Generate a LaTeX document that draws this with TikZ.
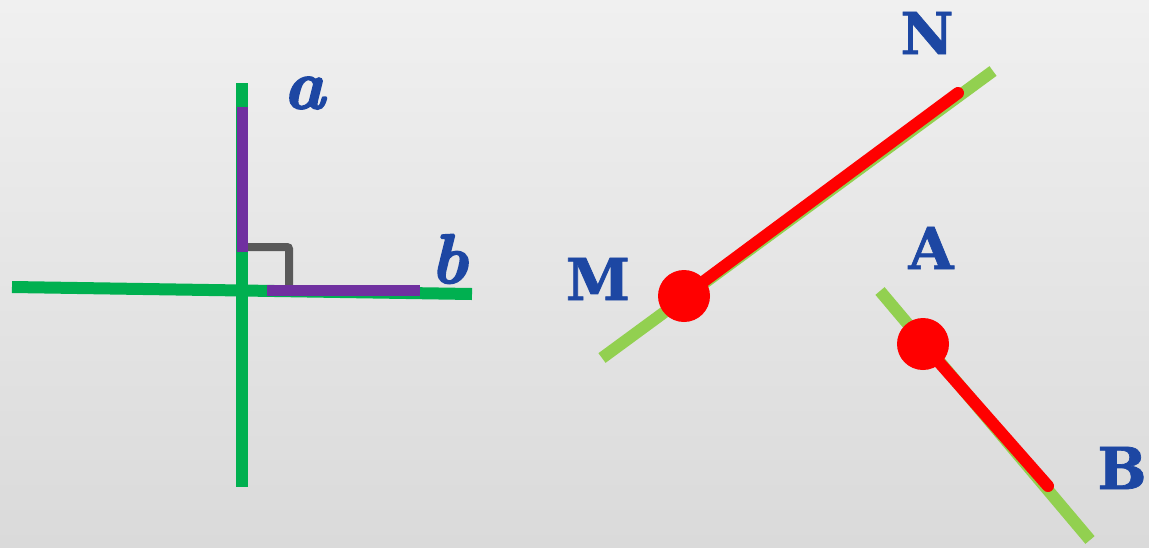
\documentclass[tikz,border=0pt]{standalone}
\usepackage{fontspec}
\newfontfamily\capfont{DejaVu Serif}[BoldFeatures={FakeBold=1.2}]
\newfontface\hvital{lmroman10-bolditalic.otf}[FakeBold=2.5]
\definecolor{lblue}{RGB}{29,71,163}
\definecolor{dgreen}{RGB}{0,176,80}
\definecolor{lgreen}{RGB}{146,208,80}
\definecolor{vpurple}{RGB}{112,48,160}
\definecolor{mgray}{RGB}{89,89,89}
\definecolor{bgtop}{RGB}{240,240,240}
\definecolor{bgbot}{RGB}{218,218,218}
\tikzset{
  axisline/.style={draw=dgreen,line width=12pt},
  segline/.style={draw=vpurple,line width=11pt},
  angmark/.style={draw=mgray,line width=8pt,rounded corners=2pt},
  baseline/.style={draw=lgreen,line width=12pt},
  redseg/.style={draw=red,line width=12pt,line cap=round},
  reddot/.style={circle,fill=red,minimum size=52pt,inner sep=0pt},
  smalllbl/.style={text=lblue,font=\fontsize{70}{70}\hvital,inner sep=0pt},
  caplbl/.style={text=lblue,font=\fontsize{58}{58}\selectfont\capfont\bfseries,inner sep=0pt},
}
\begin{document}
\begin{tikzpicture}[x=1pt,y=-1pt]
\shade[top color=bgtop,bottom color=bgbot] (0,0) rectangle (1149,547);
\useasboundingbox (0,0) rectangle (1149,547);
% left figure
\coordinate (vt) at (242,83);
\coordinate (vb) at (242,487);
\coordinate (hl) at (12,287);
\coordinate (hr) at (472,294);
\draw[axisline] (vt) -- (vb);
\draw[axisline] (hl) -- (hr);
\coordinate (pa1) at (242,107);
\coordinate (pa2) at (242,252);
\coordinate (pb1) at (267,290.5);
\coordinate (pb2) at (420,290.5);
\coordinate (m1) at (246,247);
\coordinate (m2) at (289,247);
\coordinate (m3) at (289,286);
\draw[angmark] (m1) -- (m2) -- (m3);
\draw[segline] (pa1) -- (pa2);
\draw[segline] (pb1) -- (pb2);
\node[smalllbl] (la) at (304,93) {a};
\node[smalllbl] (lb) at (449,259) {b};
% MN
\coordinate (g1) at (602,358);
\coordinate (g2) at (993,71);
\draw[baseline] (g1) -- (g2);
\node[reddot] (M) at (684,296) {};
\coordinate (Nend) at (958,93);
\draw[redseg] (M.center) -- (Nend);
\node[caplbl] (lM) at (598,279) {M};
\node[caplbl] (lN) at (927,33) {N};
% AB
\coordinate (h1) at (880,291);
\coordinate (h2) at (1090,540);
\draw[baseline] (h1) -- (h2);
\node[reddot] (A) at (923,344) {};
\coordinate (Bend) at (1048,486);
\draw[redseg] (A.center) -- (Bend);
\node[caplbl] (lA) at (931,248) {A};
\node[caplbl] (lB) at (1122,468) {B};
\end{tikzpicture}
\end{document}
